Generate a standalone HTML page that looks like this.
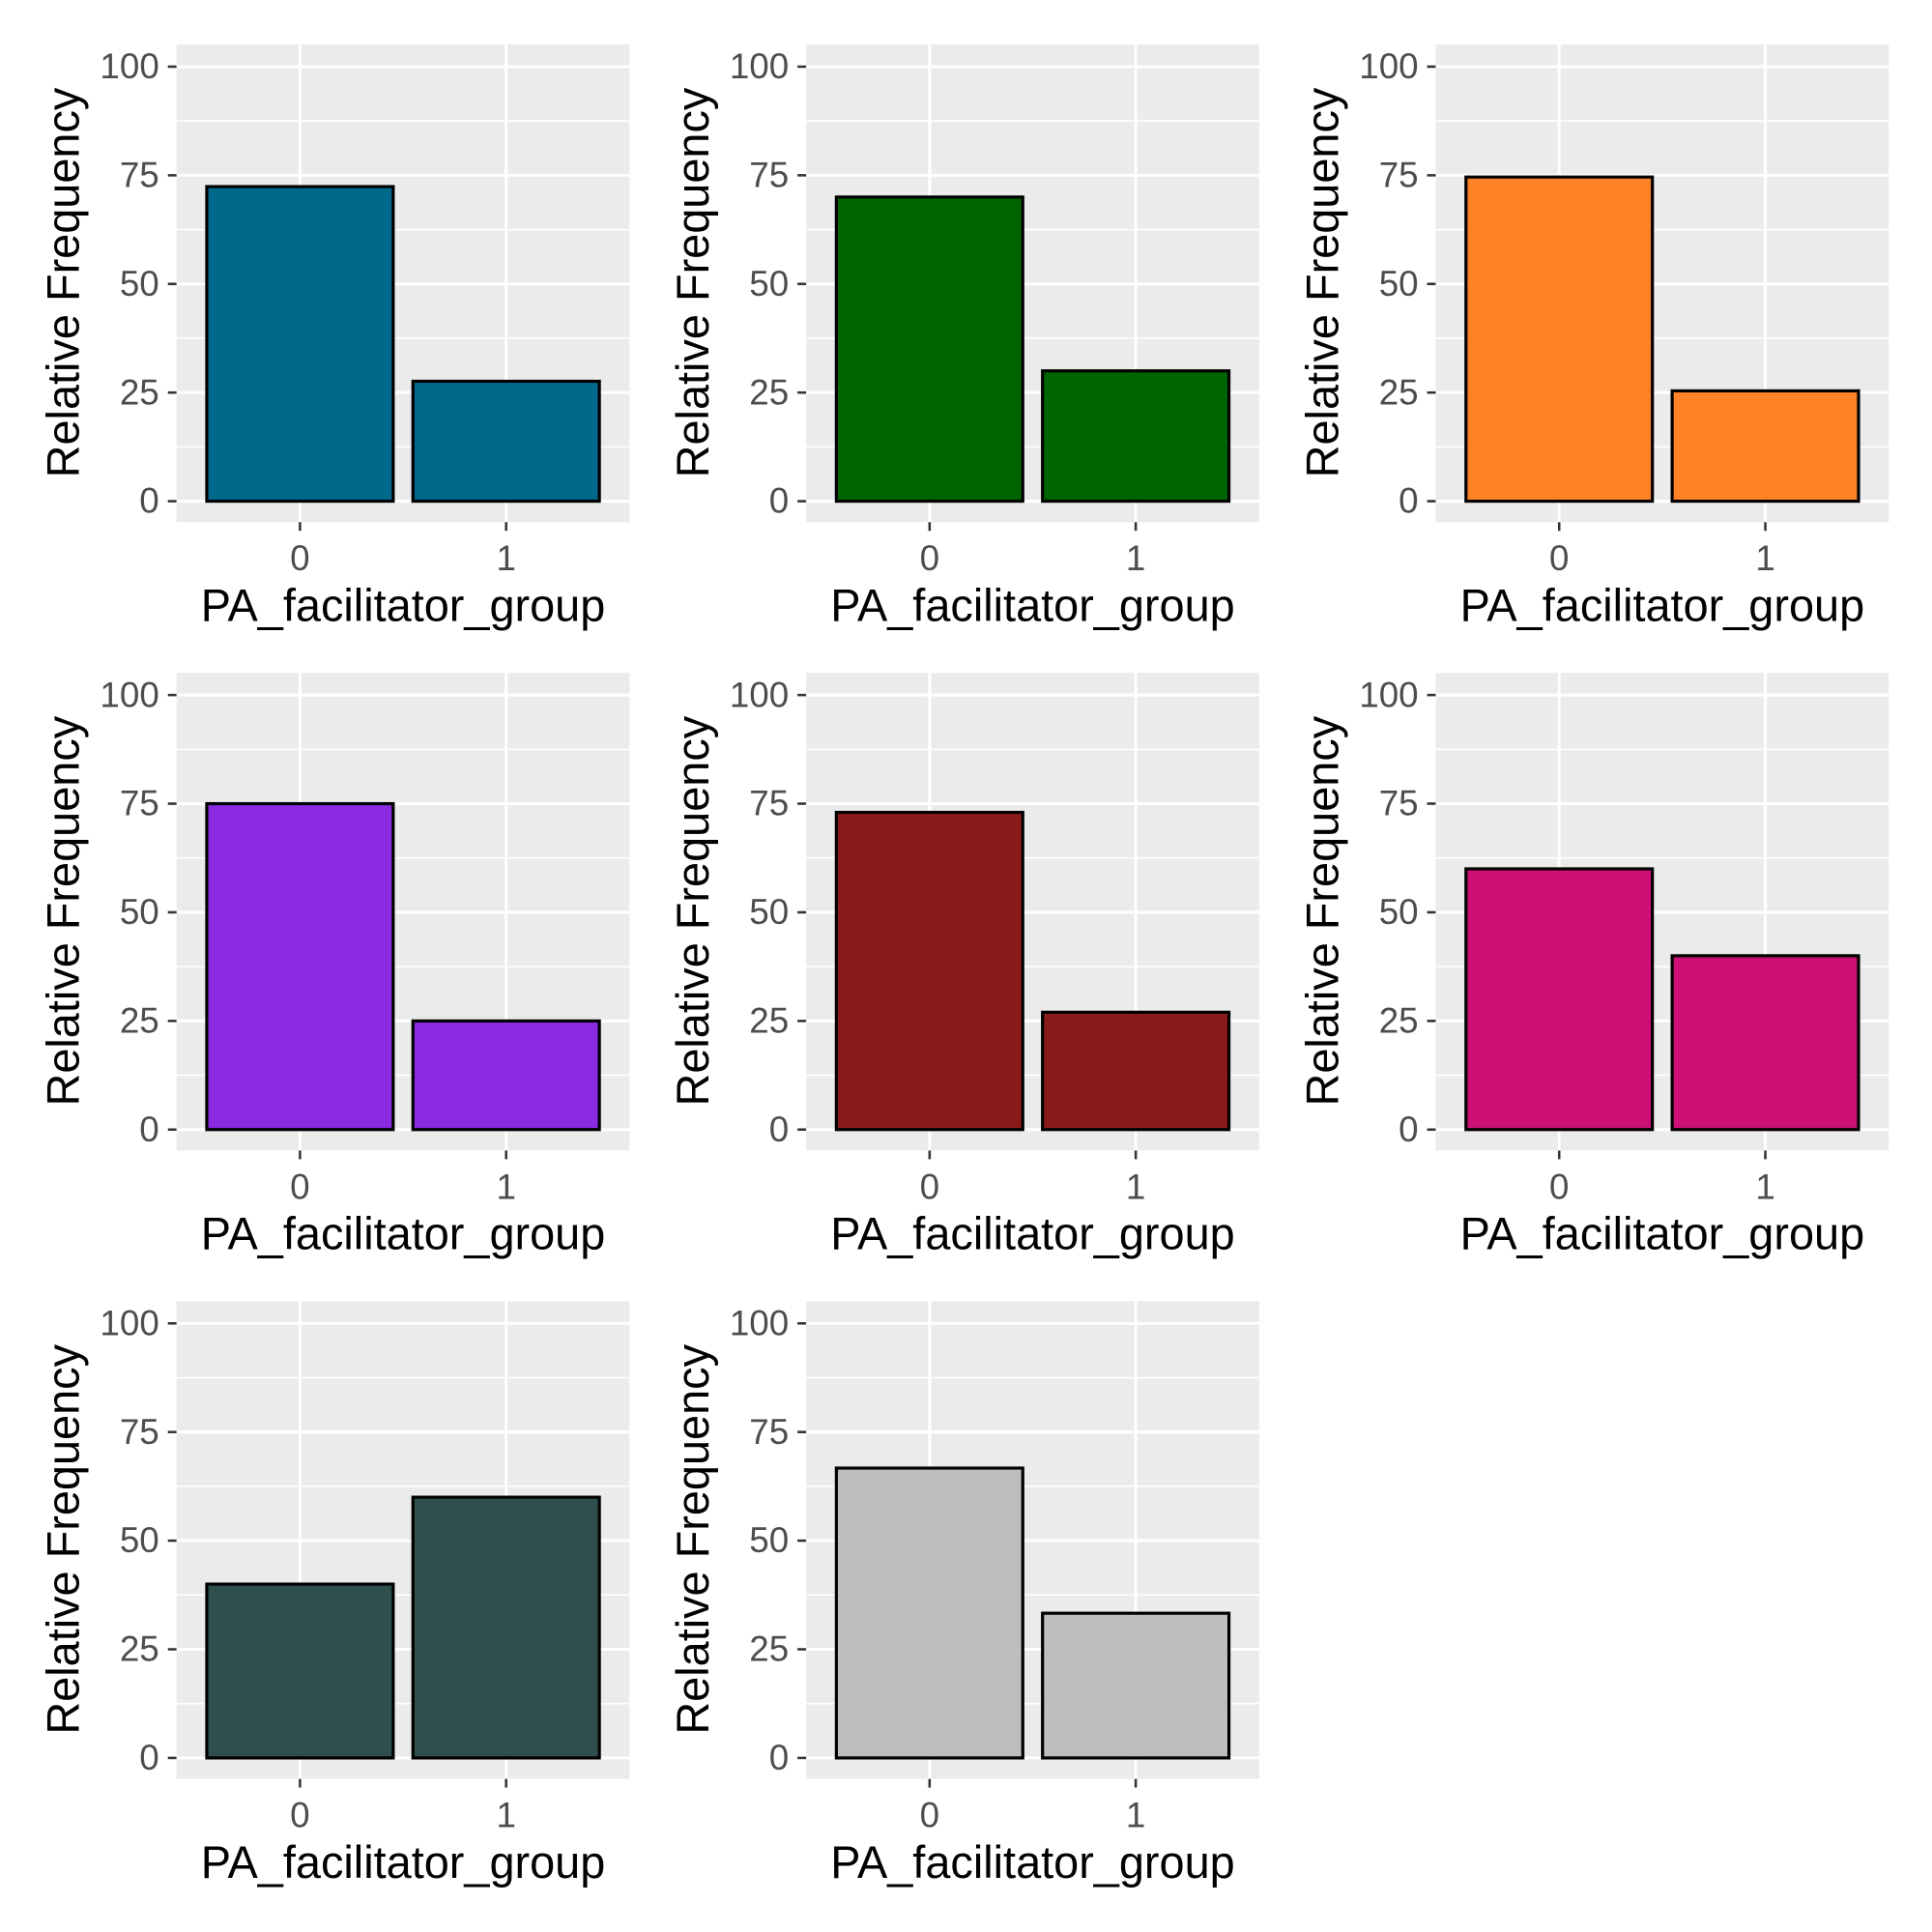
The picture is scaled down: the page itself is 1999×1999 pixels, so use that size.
<!DOCTYPE html>
<html><head><meta charset="utf-8"><style>
html,body{margin:0;padding:0;background:#fff}
svg{display:block}
text{font-family:"Liberation Sans",Arial,sans-serif}
</style></head><body>
<svg id="chart" width="1999" height="1999" viewBox="0 0 1565 1565" xmlns="http://www.w3.org/2000/svg"></svg>
<script>
const categories = ["0", "1"];
const panelValues0 = [72.4, 27.6];
const panelValues1 = [70, 30];
const panelValues2 = [74.6, 25.4];
const panelValues3 = [75, 25];
const panelValues4 = [73, 27];
const panelValues5 = [60, 40];
const panelValues6 = [40, 60];
const panelValues7 = [66.7, 33.3];
const panelColors = ["#00688B","#006400","#FF8226","#8A2BE2","#8B1A1A","#CD1076","#2F4F4F","#BEBEBE"];
const yTicks = [0, 25, 50, 75, 100];
const yMinor = [12.5, 37.5, 62.5, 87.5];
const allValues = [panelValues0,panelValues1,panelValues2,panelValues3,panelValues4,panelValues5,panelValues6,panelValues7];

const NS = "http://www.w3.org/2000/svg";
const svg = document.getElementById("chart");
function mk(tag, attrs, parent) {
  const e = document.createElementNS(NS, tag);
  for (const k in attrs) e.setAttribute(k, attrs[k]);
  parent.appendChild(e);
  return e;
}
allValues.forEach((vals, p) => {
  const col = p % 3, row = Math.floor(p / 3);
  const ox = col * 510, oy = row * 509;
  const g = mk("g", {transform: `translate(${ox},${oy})`}, svg);
  
  
  const L = 143, R = 510, T = 36, B = 423;
  const y = v => 406 - v * 3.52;
  const x = i => 243 + i * 167;
  const bg = mk("rect", {x: L, y: T, width: R - L, height: B - T, fill: "#EBEBEB"}, g);
  
  
  yMinor.forEach(v => {
    const l = mk("line", {x1: L, x2: R, y1: y(v), y2: y(v), stroke: "#fff", "stroke-width": 1.2}, g);
    
    
  });
  yTicks.forEach(v => {
    const l = mk("line", {x1: L, x2: R, y1: y(v), y2: y(v), stroke: "#fff", "stroke-width": 2.4}, g);
    
    
    const tk = mk("line", {x1: 136, x2: L, y1: y(v), y2: y(v), stroke: "#333", "stroke-width": 2}, g);
    
    
    const t = mk("text", {x: 129, y: y(v) + 9.5, "text-anchor": "end", "font-size": 28.8, fill: "#4D4D4D"}, g);
    t.textContent = v;
    
    
  });
  categories.forEach((c, i) => {
    const l = mk("line", {x1: x(i), x2: x(i), y1: T, y2: B, stroke: "#fff", "stroke-width": 2.4}, g);
    
    
  });
  categories.forEach((c, i) => {
    const bar = mk("rect", {x: x(i) - 75.5, y: y(vals[i]), width: 151, height: y(0) - y(vals[i]), fill: panelColors[p], stroke: "#000", "stroke-width": 2.5}, g);
    
    
    const tk = mk("line", {x1: x(i), x2: x(i), y1: B, y2: B + 7, stroke: "#333", "stroke-width": 2}, g);
    
    
    const t = mk("text", {x: x(i), y: 462, "text-anchor": "middle", "font-size": 28.8, fill: "#4D4D4D"}, g);
    t.textContent = c;
    
    
  });
  const xt = mk("text", {x: (L + R) / 2, y: 503, "text-anchor": "middle", "font-size": 36.7, fill: "#000"}, g);
  xt.textContent = "PA_facilitator_group";
  
  
  const yt = mk("text", {x: 0, y: 0, "text-anchor": "middle", "font-size": 36.7, fill: "#000", transform: "translate(64,229) rotate(-90)"}, g);
  yt.textContent = "Relative Frequency";
  
  
});
</script>
</body></html>
